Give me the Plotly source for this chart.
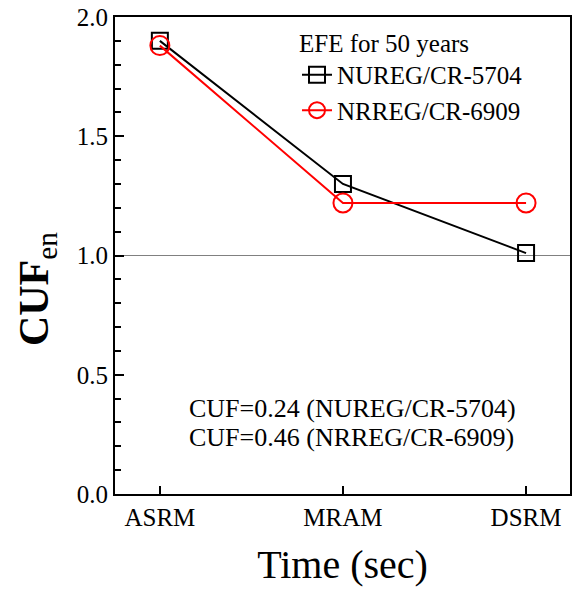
import plotly.graph_objects as go

categories = ["ASRM", "MRAM", "DSRM"]
nureg_5704 = [1.90, 1.30, 1.01]
nrreg_6909 = [1.88, 1.22, 1.22]
y_ticks = [0.0, 0.5, 1.0, 1.5, 2.0]
notes = ["CUF=0.24 (NUREG/CR-5704)", "CUF=0.46 (NRREG/CR-6909)"]

FONT = "Liberation Serif, Times New Roman, serif"
xidx = list(range(len(categories)))

fig = go.Figure()
fig.add_trace(go.Scatter(
    x=xidx, y=nureg_5704, name="NUREG/CR-5704", mode="lines+markers",
    line=dict(color="black", width=2),
    marker=dict(symbol="square-open", size=16, color="black", line=dict(width=2)),
))
fig.add_trace(go.Scatter(
    x=xidx, y=nrreg_6909, name="NRREG/CR-6909", mode="lines+markers",
    line=dict(color="#ff0000", width=2),
    marker=dict(symbol="circle-open", size=19, color="#ff0000", line=dict(width=2)),
))

fig.add_shape(type="line", xref="paper", x0=0, x1=1, yref="y", y0=1.0, y1=1.0,
              line=dict(color="#808080", width=1), layer="below")

note_y = [0.358, 0.238]
for t, yv in zip(notes, note_y):
    fig.add_annotation(x=0.158, y=yv, xref="paper", yref="y",
                       text=t, showarrow=False, xanchor="left", yanchor="middle",
                       font=dict(family=FONT, size=26, color="black"))

# y-axis title as rotated annotation
fig.add_annotation(x=-0.171, y=0.86, xref="paper", yref="y",
                   text="<b>CUF</b><sub>en</sub>", showarrow=False, textangle=-90,
                   xanchor="center", yanchor="middle",
                   font=dict(family=FONT, size=42, color="black"))

fig.update_layout(
    width=576, height=590,
    margin=dict(l=115, r=4, t=14, b=96),
    paper_bgcolor="white", plot_bgcolor="white",
    font=dict(family=FONT, color="black"),
    showlegend=True,
    legend=dict(
        x=0.4, y=0.995, xanchor="left", yanchor="top",
        bgcolor="rgba(0,0,0,0)",
        title=dict(text="EFE for 50 years", font=dict(family=FONT, size=25)),
        font=dict(family=FONT, size=25),
        tracegroupgap=0,
    ),
    xaxis=dict(
        range=[-0.245, 2.24], tickmode="array", tickvals=xidx, ticktext=categories,
        ticks="inside", ticklen=8, tickwidth=2, tickcolor="black",
        showline=True, linecolor="black", linewidth=2, mirror=True,
        showgrid=False, zeroline=False,
        tickfont=dict(family=FONT, size=25),
        title=dict(text="Time (sec)", font=dict(family=FONT, size=40), standoff=20),
    ),
    yaxis=dict(
        range=[0, 2.0], tickmode="array", tickvals=y_ticks,
        ticktext=[f"{v:.1f}" for v in y_ticks],
        ticks="inside", ticklen=9, tickwidth=2, tickcolor="black",
        minor=dict(dtick=0.1, ticks="inside", ticklen=6, tickwidth=2, tickcolor="black", showgrid=False),
        showline=True, linecolor="black", linewidth=2, mirror=True,
        showgrid=False, zeroline=False,
        tickfont=dict(family=FONT, size=25),
    ),
)

fig.write_html("out.html")
